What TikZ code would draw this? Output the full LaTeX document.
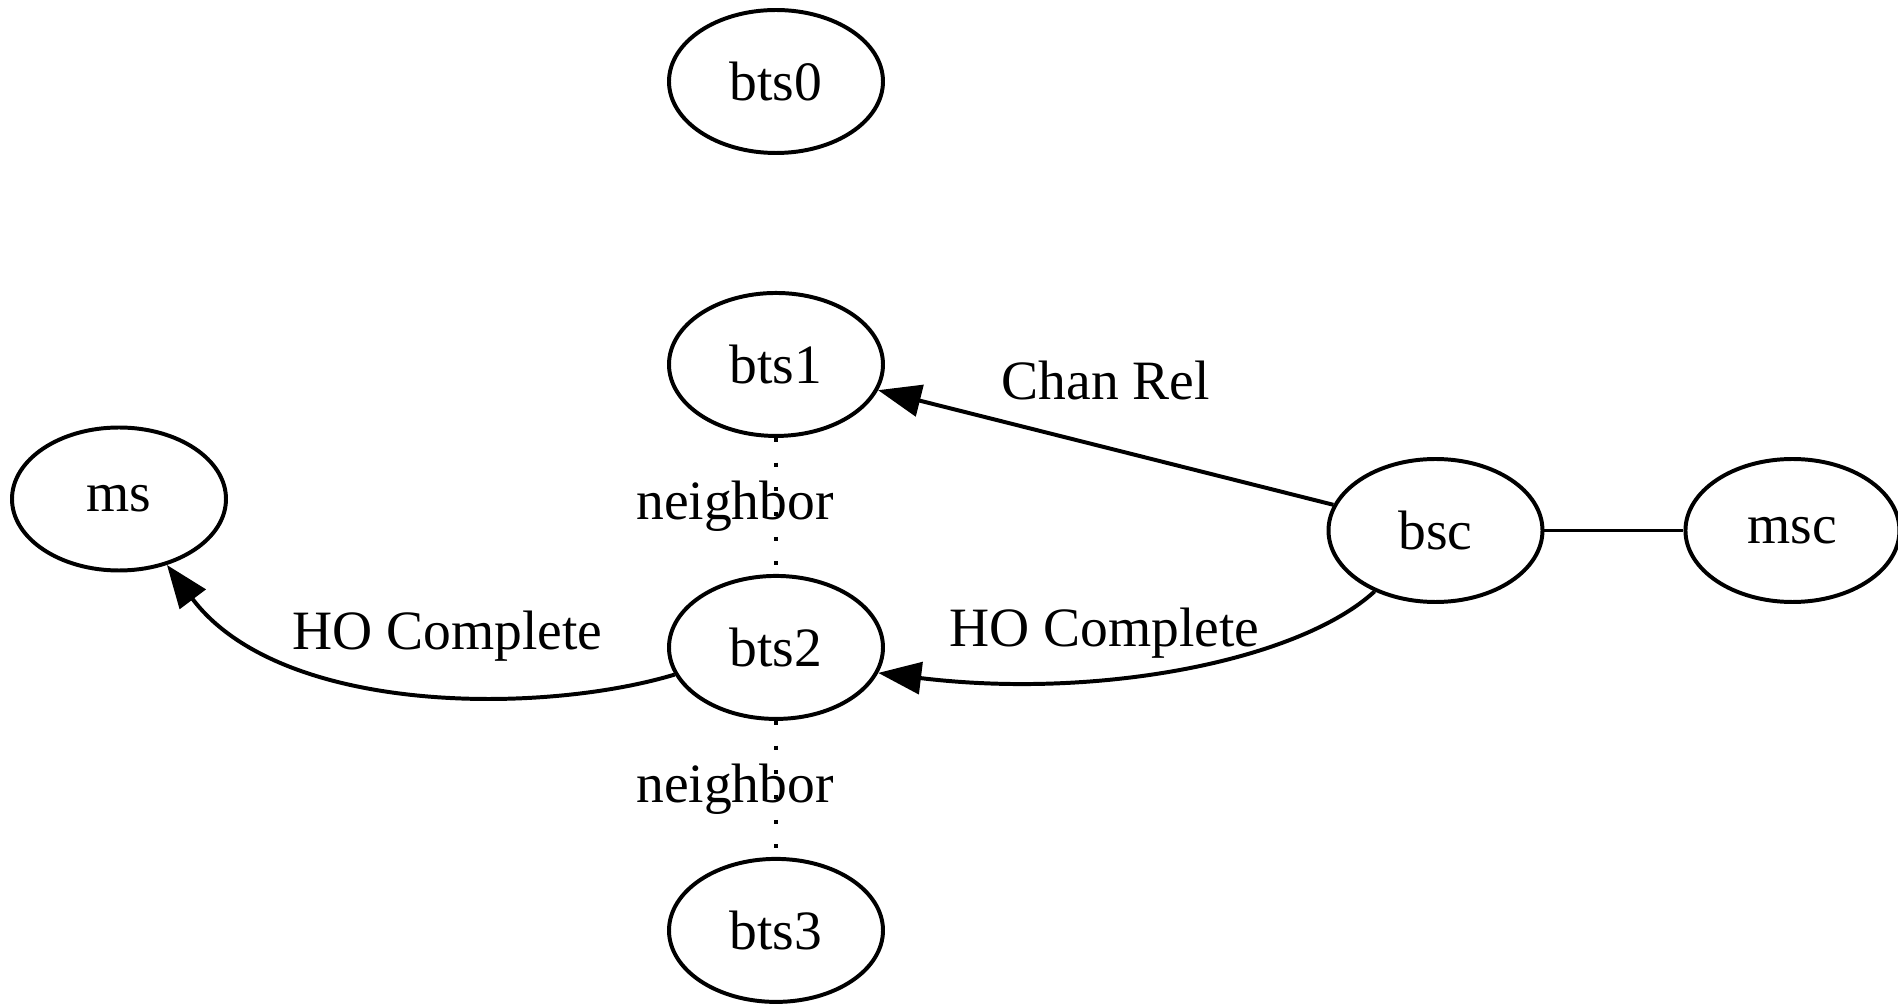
\documentclass[tikz,border=0pt]{standalone}
\usepackage{fontspec}
\setmainfont{Liberation Serif}
\usetikzlibrary{positioning, arrows.meta, shapes.geometric}

\begin{document}
\begin{tikzpicture}[
    node distance=1.36cm,
    elipse/.style={
        ellipse, draw=black, line width=1.13pt,
        minimum width=2.14cm, minimum height=1.43cm,
        inner sep=0pt, font=\fontsize{15.8}{19}\selectfont
    },
    seta/.style={-{Triangle[length=0.43cm, width=0.32cm]}, line width=1.13pt},
    linha/.style={line width=1.13pt},
    vizinho/.style={line width=1.13pt, dash pattern=on 1.13pt off 5.9pt},
    rotulo/.style={font=\fontsize{15.8}{19}\selectfont, inner sep=0pt}
]
\useasboundingbox (0,0) rectangle (18.98,10.04);

\node[elipse] (bts0) at (7.76,9.225) {bts0};
\node[elipse, below=of bts0] (bts1) {bts1};
\node[elipse, below=of bts1] (bts2) {bts2};
\node[elipse, below=of bts2] (bts3) {bts3};
\node[elipse] (ms) at (1.19,5.05) {ms};
\node[elipse] (bsc) at (14.355,4.735) {bsc};
\node[elipse, right=1.39cm of bsc] (msc) {msc};

\draw[vizinho] (bts1) -- node[rotulo, xshift=-0.41cm] {neighbor} (bts2);
\draw[vizinho] (bts2) -- node[rotulo, xshift=-0.41cm] {neighbor} (bts3);
\draw[linha] (bsc) -- (msc);
\draw[seta] (bsc) -- node[rotulo, midway, yshift=0.67cm] {Chan Rel} (bts1);
\draw[seta] (bsc.225) .. controls (13.00,3.44) and (11.00,3.04) .. node[rotulo, pos=0.64, yshift=0.445cm] {HO Complete} (bts2.-14);
\draw[seta] (bts2.195) .. controls (5.40,2.89) and (2.80,2.89) .. node[rotulo, pos=0.44, yshift=0.59cm] {HO Complete} (ms.-54);
\end{tikzpicture}
\end{document}
